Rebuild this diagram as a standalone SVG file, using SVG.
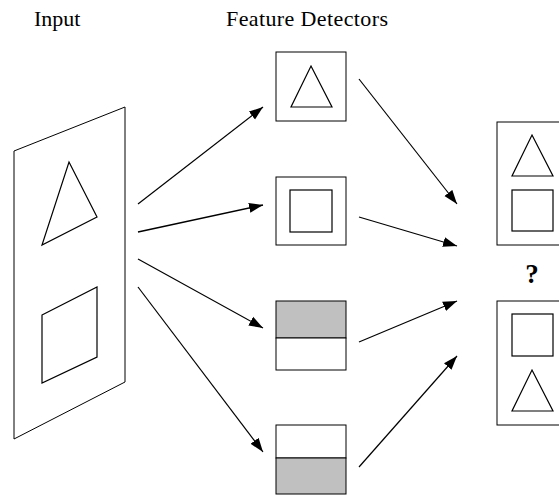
<svg xmlns="http://www.w3.org/2000/svg" width="559" height="496" viewBox="0 0 559 496">
<style>
.s{fill:none;stroke:#000;stroke-width:1.2}
.b{fill:#fff;stroke:#000;stroke-width:1}
.g{fill:#c0c0c0;stroke:#000;stroke-width:1}
.c{stroke:#000;stroke-width:1.2;fill:none;marker-end:url(#ah)}
.t{font-family:"Liberation Serif","Times New Roman",serif;font-size:22px;fill:#000}
.q{font-size:27px;font-weight:bold}
.w{stroke-width:1.6}
</style>
<defs>
<marker id="ah" markerUnits="userSpaceOnUse" markerWidth="15" markerHeight="12" refX="14" refY="5" orient="auto" viewBox="0 0 15 10">
<path d="M0,0 L14,5 L0,10 Z" fill="#000"/>
</marker>
</defs>
<rect width="559" height="496" fill="#fff"/>
<text class="t" x="34" y="26">Input</text>
<text class="t" x="226" y="26" textLength="162">Feature Detectors</text>
<g id="input">
<polygon class="b" points="14,151 125,107 125,382 14,439"/>
<polygon class="s" points="69,162 97,217 42,245"/>
<polygon class="s" points="42,315 97,287 97,357 42,383"/>
</g>
<g id="det1">
<rect class="b" x="276" y="52" width="70" height="69"/>
<polygon class="s" points="311,66 332,107 291,107"/>
</g>
<g id="det2">
<rect class="b" x="276" y="177" width="70" height="68"/>
<rect class="s" x="290" y="190" width="42" height="42"/>
</g>
<g id="det3">
<rect class="g" x="276" y="301" width="70" height="37"/>
<rect class="b" x="276" y="338" width="70" height="32"/>
</g>
<g id="det4">
<rect class="b" x="276" y="425" width="70" height="33"/>
<rect class="g" x="276" y="458" width="70" height="36"/>
</g>
<g id="outA">
<rect class="b" x="497" y="122" width="70" height="123"/>
<polygon class="s" points="532,135 553,176 512,176"/>
<rect class="s" x="512" y="190" width="41" height="41"/>
</g>
<g id="q">
<text class="t q" x="532" y="283" text-anchor="middle">?</text>
</g>
<g id="outB">
<rect class="b" x="497" y="301" width="70" height="124"/>
<rect class="s" x="512" y="314" width="41" height="42"/>
<polygon class="s" points="532,370 553,411 512,411"/>
</g>
<g id="connectors">
<line class="c" x1="138" y1="204" x2="263" y2="107"/>
<line class="c w" x1="138" y1="232" x2="263" y2="205"/>
<line class="c" x1="138" y1="259" x2="263" y2="328"/>
<line class="c" x1="138" y1="287" x2="263" y2="452"/>
<line class="c" x1="359" y1="79" x2="457" y2="204"/>
<line class="c" x1="359" y1="217" x2="457" y2="246"/>
<line class="c" x1="359" y1="342" x2="457" y2="301"/>
<line class="c" x1="359" y1="467" x2="457" y2="356"/>
</g>
</svg>
